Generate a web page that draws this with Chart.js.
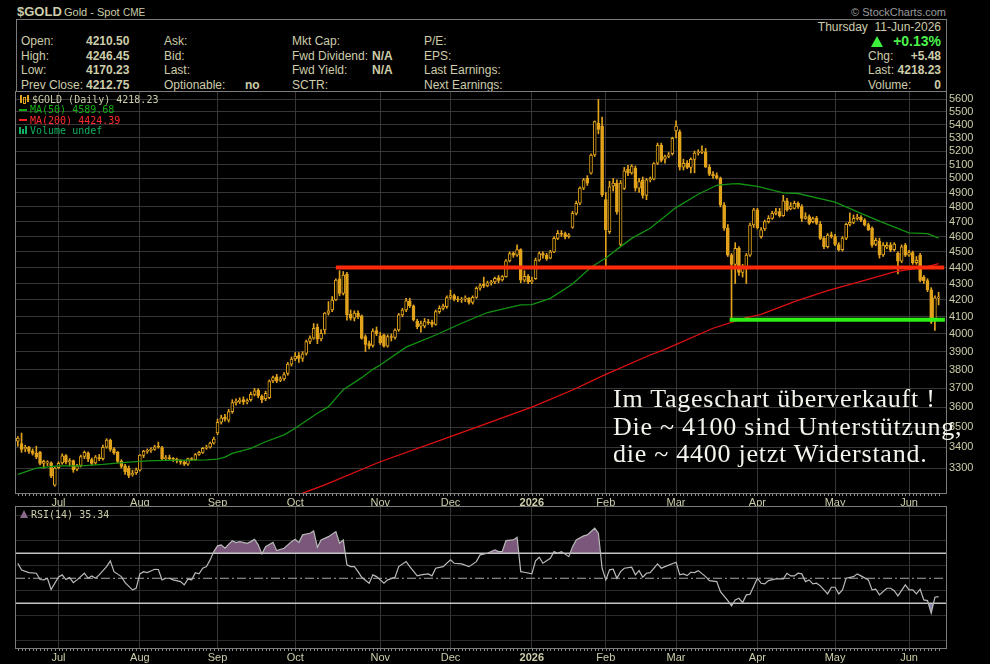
<!DOCTYPE html>
<html>
<head>
<meta charset="utf-8">
<title>$GOLD Daily</title>
<script src="https://cdn.jsdelivr.net/npm/chart.js@4.4.1/dist/chart.umd.min.js"></script>
<style>
  body { margin: 0; background: #000; width: 990px; height: 664px; overflow: hidden; position: relative;
         font-family: "Liberation Sans", Arial, sans-serif; color: #cdcdaa; }
  .t { position: absolute; font-size: 12px; line-height: 14px; white-space: nowrap; }
  .b { font-weight: bold; }
  .r { right: 49px; text-align: right; }
  .lg { position: absolute; font-family: "DejaVu Sans Mono", monospace; font-size: 10px; line-height: 11px; white-space: nowrap; }
  #hdr { position: absolute; left: 16px; top: 19px; width: 929px; height: 71px; border: 1px solid #7a7a7a; }
  #pricebox { position: absolute; left: 0; top: 88px; }
  #rsibox { position: absolute; left: 0; top: 505px; }
  #note { position: absolute; left: 613px; top: 385px; font-family: "Liberation Serif", "Times New Roman", serif;
          font-size: 26px; letter-spacing: 0.75px; line-height: 27.5px; color: #f4f4ec; white-space: nowrap; }
</style>
</head>
<body>

<div class="t b" style="left:17px;top:5px;font-size:13px;">$GOLD</div>
<div class="t" style="left:64px;top:5px;font-size:11px;">Gold - Spot</div>
<div class="t" style="left:123px;top:6px;font-size:10px;">CME</div>
<div class="t" style="right:44px;top:5px;font-size:11px;color:#9a9a9a;">&copy; StockCharts.com</div>

<div id="hdr"></div>
<div class="t r" style="top:20px;">Thursday&nbsp; 11-Jun-2026</div>
<div style="position:absolute;left:871px;top:36px;width:0;height:0;border-left:6px solid transparent;border-right:6px solid transparent;border-bottom:11px solid #3cf03c;"></div>
<div class="t r b" style="top:33px;font-size:14px;line-height:16px;color:#4cf24c;">+0.13%</div>

<div class="t" style="left:21px;top:34px;">Open:</div>
<div class="t b" style="left:86px;top:34px;">4210.50</div>
<div class="t" style="left:164px;top:34px;">Ask:</div>
<div class="t" style="left:292px;top:34px;">Mkt Cap:</div>
<div class="t" style="left:424px;top:34px;">P/E:</div>

<div class="t" style="left:21px;top:48.5px;">High:</div>
<div class="t b" style="left:86px;top:48.5px;">4246.45</div>
<div class="t" style="left:164px;top:48.5px;">Bid:</div>
<div class="t" style="left:292px;top:48.5px;">Fwd Dividend:</div>
<div class="t b" style="left:372px;top:48.5px;">N/A</div>
<div class="t" style="left:424px;top:48.5px;">EPS:</div>
<div class="t" style="left:868px;top:48.5px;">Chg:</div>
<div class="t r b" style="top:48.5px;">+5.48</div>

<div class="t" style="left:21px;top:63px;">Low:</div>
<div class="t b" style="left:86px;top:63px;">4170.23</div>
<div class="t" style="left:164px;top:63px;">Last:</div>
<div class="t" style="left:292px;top:63px;">Fwd Yield:</div>
<div class="t b" style="left:372px;top:63px;">N/A</div>
<div class="t" style="left:424px;top:63px;">Last Earnings:</div>
<div class="t" style="left:868px;top:63px;">Last:</div>
<div class="t r b" style="top:63px;">4218.23</div>

<div class="t" style="left:21px;top:77.5px;">Prev Close:</div>
<div class="t b" style="left:86px;top:77.5px;">4212.75</div>
<div class="t" style="left:164px;top:77.5px;">Optionable:</div>
<div class="t b" style="left:245px;top:77.5px;">no</div>
<div class="t" style="left:292px;top:77.5px;">SCTR:</div>
<div class="t" style="left:424px;top:77.5px;">Next Earnings:</div>
<div class="t" style="left:868px;top:77.5px;">Volume:</div>
<div class="t r b" style="top:77.5px;">0</div>

<div id="pricebox"><canvas id="price" width="990" height="419" style="width:990px;height:419px;"></canvas></div>
<div id="rsibox"><canvas id="rsi" width="990" height="159" style="width:990px;height:159px;"></canvas></div>

<!-- legends -->
<div style="position:absolute;left:20px;top:95px;width:2px;height:8px;background:#e2a31c;"></div>
<div style="position:absolute;left:23px;top:97px;width:1px;height:5px;border:1px solid #e2a31c;"></div>
<div style="position:absolute;left:27px;top:95px;width:2px;height:7px;background:#e2a31c;"></div>
<div class="lg" style="left:32px;top:93.5px;color:#cdcdaa;">$GOLD (Daily) 4218.23</div>
<div style="position:absolute;left:19px;top:108.5px;width:8px;height:2px;background:#14a814;"></div>
<div class="lg" style="left:30px;top:104px;color:#14b014;">MA(50) 4589.68</div>
<div style="position:absolute;left:19px;top:119px;width:8px;height:2px;background:#ff2020;"></div>
<div class="lg" style="left:30px;top:114.5px;color:#ff2a2a;">MA(200) 4424.39</div>
<div style="position:absolute;left:19px;top:127px;width:2px;height:7px;background:#10b060;"></div>
<div style="position:absolute;left:22px;top:129px;width:2px;height:5px;background:#10b060;"></div>
<div style="position:absolute;left:25px;top:126px;width:2px;height:8px;background:#10b060;"></div>
<div class="lg" style="left:30px;top:125px;color:#10b060;">Volume undef</div>

<div style="position:absolute;left:20px;top:510px;width:0;height:0;border-left:4px solid transparent;border-right:4px solid transparent;border-bottom:8px solid #8a6a8a;"></div>
<div class="lg" style="left:31px;top:509px;color:#cdcdaa;">RSI(14) 35.34</div>

<div id="note">Im Tageschart überverkauft !<br>Die ~ 4100 sind Unterstützung,<br>die ~ 4400 jetzt Widerstand.</div>

<script>
// daily bars, Jun 2025 - 11 Jun 2026 (one row per month)
var opens = [
  3430,3418,3392,3400,3382,3372,3375,3322,3325,3325,3220,
  3302,3325,3360,3330,3335,3295,3312,3355,3372,3340,3325,3350,3345,3400,3435,3392,3375,3332,3310,3300,3268,3278,
  3290,3360,3380,3385,3390,3402,3398,3345,3350,3345,3342,3335,3328,3318,3342,3340,3365,3375,3395,3400,3420,
  3470,3524,3550,3535,3578,3625,3630,3640,3628,3640,3668,3690,3658,3645,3650,3740,3762,3742,3750,3780,3831,
  3860,3878,3862,3890,3958,3976,4040,3972,4024,4121,4140,4200,4330,4240,4358,4115,4091,4121,4105,3985,3945,3935,4020,
  3989,3995,3930,3985,3980,4023,4111,4140,4195,4165,4075,4045,4045,4070,4068,4055,4130,4150,4160,
  4215,4226,4205,4200,4205,4210,4185,4216,4271,4295,4285,4305,4310,4335,4322,4343,4442,4490,4478,4514,4321,4345,
  4311,4330,4447,4489,4478,4460,4500,4588,4622,4620,4600,4660,4756,4825,4931,5002,5038,5171,5412,5390,
  4850,4633,4945,4966,4548,4928,5067,5040,5075,4930,4990,4880,4990,4995,5110,5244,5140,5160,5180,
  5352,5346,5081,5110,5080,5139,5186,5190,5195,5081,5030,5020,5003,4813,4655,4480,4419,4523,4370,4400,4479,4677,
  4780,4599,4650,4699,4722,4756,4767,4740,4842,4786,4790,4825,4802,4722,4733,4700,4722,4681,4588,4533,4612,
  4600,4548,4515,4590,4681,4695,4722,4730,4710,4680,4655,4548,4570,4480,4530,4544,4515,4490,4440,4544,
  4479,4495,4430,4479,4340,4318,4262,4080,4210.5
];
var highs = [
  3452,3470,3410,3405,3392,3405,3380,3338,3335,3330,3305,
  3330,3368,3365,3345,3338,3318,3362,3382,3378,3348,3360,3365,3410,3442,3440,3398,3380,3340,3318,3310,3290,3300,
  3365,3385,3392,3398,3410,3425,3405,3360,3362,3350,3348,3340,3335,3348,3350,3370,3380,3400,3410,3425,3450,
  3540,3560,3565,3590,3640,3645,3650,3655,3645,3680,3700,3698,3665,3685,3745,3765,3775,3762,3785,3840,3870,
  3895,3895,3900,3965,3990,4060,4058,4025,4125,4190,4220,4330,4380,4375,4370,4140,4135,4135,4110,3995,3960,4030,4040,
  4010,4000,3995,4000,4030,4120,4150,4210,4210,4170,4085,4075,4090,4085,4080,4140,4165,4175,4225,
  4260,4235,4220,4215,4225,4215,4225,4280,4300,4340,4315,4320,4340,4350,4350,4450,4500,4500,4545,4520,4380,4355,
  4340,4460,4500,4500,4490,4510,4600,4640,4640,4630,4620,4770,4840,4940,5000,5020,5180,5430,5600,5460,
  4900,4980,5000,4990,4985,5080,5095,5100,5090,5000,5010,5000,5010,5115,5260,5260,5170,5190,5305,
  5430,5360,5140,5130,5150,5200,5210,5240,5220,5100,5050,5040,5010,4830,4680,4490,4560,4535,4420,4490,4690,4790,
  4790,4660,4710,4740,4770,4790,4790,4880,4860,4830,4840,4835,4815,4760,4745,4730,4735,4700,4600,4620,4630,
  4615,4560,4600,4690,4760,4745,4750,4740,4720,4690,4665,4590,4590,4560,4560,4560,4560,4500,4545,4555,
  4510,4505,4470,4490,4350,4330,4275,4225,4246.45
];
var lows = [
  3405,3375,3378,3370,3362,3345,3315,3300,3312,3255,3215,
  3298,3318,3320,3310,3280,3288,3305,3345,3330,3315,3318,3335,3338,3395,3380,3365,3325,3300,3270,3255,3262,3270,
  3285,3350,3370,3375,3385,3395,3340,3335,3340,3332,3325,3318,3312,3312,3335,3338,3360,3370,3390,3395,3415,
  3462,3515,3530,3525,3570,3612,3620,3615,3618,3632,3660,3650,3625,3635,3645,3730,3730,3735,3742,3770,3820,
  3850,3840,3845,3880,3945,3970,3945,3960,4000,4110,4130,4195,4225,4230,4080,4080,4075,4090,3970,3900,3915,3925,3990,
  3940,3925,3925,3960,3970,4015,4100,4130,4155,4075,4030,4010,4035,4055,4040,4050,4120,4140,4150,
  4205,4195,4190,4185,4190,4175,4175,4210,4260,4275,4280,4290,4300,4305,4315,4340,4435,4465,4470,4305,4310,4300,
  4300,4325,4440,4460,4445,4455,4495,4580,4600,4585,4590,4655,4745,4815,4920,4950,5030,5160,5330,4870,
  4402,4620,4910,4750,4540,4920,5020,5030,4910,4900,4860,4850,4975,4990,5100,5120,5110,5150,5170,
  5300,5060,5060,5070,5040,5040,5170,5180,5080,5020,5000,4995,4800,4640,4470,4081,4300,4350,4340,4300,4470,4660,
  4650,4590,4640,4690,4715,4745,4730,4735,4770,4780,4785,4790,4700,4715,4680,4690,4680,4580,4520,4525,4590,
  4540,4505,4505,4580,4670,4685,4710,4700,4670,4640,4530,4540,4460,4470,4520,4500,4505,4360,4430,4470,
  4470,4420,4420,4310,4300,4250,4060,4020,4170.23
];
var closes = [
  3445,3390,3400,3380,3370,3352,3322,3332,3328,3262,3300,
  3322,3358,3328,3335,3292,3310,3355,3375,3342,3322,3352,3345,3400,3435,3390,3372,3332,3308,3282,3265,3275,3292,
  3362,3380,3385,3390,3402,3400,3345,3350,3345,3342,3335,3328,3318,3345,3340,3365,3375,3395,3400,3420,3440,
  3524,3547,3540,3578,3625,3632,3638,3628,3635,3668,3686,3660,3640,3673,3739,3758,3740,3750,3774,3831,3859,
  3875,3862,3888,3956,3976,4033,3970,4004,4121,4135,4200,4321,4240,4352,4111,4091,4121,4100,3975,3940,3930,4017,4000,
  3950,3930,3985,3980,4023,4111,4140,4195,4165,4081,4042,4060,4071,4065,4055,4130,4150,4164,4215,
  4226,4205,4200,4205,4210,4185,4216,4271,4287,4285,4305,4310,4332,4320,4343,4442,4489,4478,4514,4321,4345,4311,
  4320,4447,4489,4478,4457,4500,4588,4622,4615,4599,4610,4756,4825,4931,4990,4966,5171,5424,5365,4885,
  4645,4940,4966,4767,4966,5054,5038,5090,4930,4978,4880,4990,4995,5107,5244,5130,5160,5173,5296,
  5389,5081,5110,5080,5139,5186,5190,5200,5081,5030,5020,5003,4813,4655,4479,4419,4523,4370,4400,4479,4677,4779,
  4659,4644,4699,4722,4756,4767,4740,4842,4779,4805,4825,4800,4722,4733,4688,4720,4688,4588,4533,4610,4600,
  4548,4515,4590,4681,4695,4722,4730,4710,4677,4644,4544,4575,4480,4544,4542,4511,4550,4440,4533,4479,
  4495,4430,4445,4320,4318,4262,4070,4212.75,4218.23
];

// moving averages (bar index -> value)
var ma50Bars   = [0, 5, 11, 17, 23, 30, 35, 40, 47, 51, 54, 56, 58, 63, 67, 72, 75, 81, 84, 88, 93, 96, 98, 105, 113,
                  120, 127, 136, 139, 144, 150, 155, 159, 163, 166, 171, 178, 184, 189, 193, 195, 200, 207, 211, 221, 228, 233, 241, 246, 249];
var ma50Values = [3270, 3300, 3310, 3310, 3317, 3328, 3334, 3337, 3338, 3339, 3343, 3352, 3370, 3395, 3427, 3461, 3494, 3570, 3604, 3693, 3757, 3802, 3826, 3925, 3994,
                  4062, 4125, 4171, 4172, 4210, 4297, 4402, 4460, 4534, 4588, 4655, 4795, 4888, 4951, 4961, 4962, 4944, 4897, 4893, 4833, 4755, 4703, 4624, 4619, 4590];
var ma200Bars   = [77, 83, 98, 117, 139, 150, 159, 171, 175, 188, 197, 201, 210, 219, 228, 237, 246, 249];
var ma200Values = [3183, 3221, 3330, 3452, 3601, 3691, 3775, 3881, 3913, 4033, 4095, 4114, 4190, 4256, 4313, 4372, 4406, 4424];

// RSI(14)
var rsiBars = [
  0,1,3,5,6,7,8,9,11,12,  13,14,15,16,18,19,20,21,22,24,  25,26,28,29,31,32,33,34,35,37,  38,39,40,41,42,44,45,46,47,48,
  49,50,51,52,53,54,55,56,58,59,  60,62,63,64,65,66,67,69,70,72,  74,75,76,77,79,80,81,82,84,86,  87,88,89,90,91,92,93,95,96,97,
  99,100,102,103,105,106,108,109,111,112,  113,115,117,118,120,122,124,125,127,129,  130,131,132,134,135,136,137,139,140,141,
  142,144,145,146,147,149,150,151,153,154,  156,157,158,159,160,161,162,163,164,166,  167,168,169,170,171,173,174,175,178,179,
  180,181,182,183,184,186,187,189,190,192,  193,194,195,196,197,198,200,201,202,203,  205,207,208,209,210,211,212,213,214,215,
  216,217,218,219,220,221,222,223,224,226,  227,228,230,231,232,233,235,236,237,238,  240,241,242,243,244,245,246,247,248,249
];
var rsiValues = [
  62,56.5,54.5,54,49,48.7,50,41,51,52.7,  49,50.5,46.5,48.7,54,50,51.9,50,52.7,59.3,  63.9,55.3,51.3,46.5,40.7,42,53.5,55.3,54.5,57.2,  57,48.7,50,50,48.7,47.3,44.7,49.2,48.7,54.5,
  53.5,58,59.3,64.7,71.3,75.9,76.7,74,80.1,78.5,  79.3,78,79.3,81.2,76.7,69.5,75.3,78.8,72.1,74,  79.3,81.2,78.5,84.7,86,87.9,74.8,80.7,83.3,87.3,  78,80.7,60.7,59.3,59.3,55.3,50.8,46,52.7,51.3,
  46,48.7,50.8,59.3,63.3,59.3,51.9,52.7,53.5,51.9,  58,59.3,64.7,62,61.5,59.3,63.3,68.7,70,72.7,  71.3,71.5,80.1,80.7,82.8,55.3,54.8,53.5,63.9,66.8,
  62,66,71.3,70,71.3,67.3,75.3,80.7,83.9,84.7,  90,86,58,48.7,56.7,57.2,50,55.3,58,58.8,  52.7,56.1,50.8,54,54.5,61.5,58,59.3,62.8,52.7,
  53.5,52.1,54.8,54.5,56.1,51.3,48.1,47.3,39.3,32.1,  27.9,32.7,34,30.5,36.7,37.2,50,46,45.5,48.1,  49.5,49.5,54,51.9,51.9,54,53.5,47.3,48.7,45.5,
  46,43.9,40.7,37.5,42.8,42.8,37.5,40.7,50,51.3,  53.5,51.9,48.7,40.7,41.2,36.7,42,42,40.1,35.9,  44.7,40.7,40.7,37.5,41.2,32.7,32.1,22,34.8,35.3
];

// drawn support / resistance levels
var resistanceLevel = 4400, resistanceFrom = 86, resistanceTo = 250.5;
var supportLevel = 4083, supportFrom = 192.5, supportTo = 250.7;

// axes
var monthTicks  = [11, 33, 54, 75, 98, 117, 139, 159, 178, 200, 221, 241];
var monthLabels = ['Jul', 'Aug', 'Sep', 'Oct', 'Nov', 'Dec', '2026', 'Feb', 'Mar', 'Apr', 'May', 'Jun'];
var priceTicks  = [3300, 3400, 3500, 3600, 3700, 3800, 3900, 4000, 4100, 4200, 4300, 4400,
                   4500, 4600, 4700, 4800, 4900, 5000, 5100, 5200, 5300, 5400, 5500, 5600];
var rsiGrid   = [0, 10, 20, 30, 40, 50, 60, 70, 80, 90, 100];
var rsiLabels = [10, 30, 50, 70, 90];
var rsiLevels = [70, 50, 30];

var sans = '"Liberation Sans", Arial, sans-serif';
var txt = '#cdcdaa';
var gridColor = '#363636';
var gold = '#e2a31c';

// border round the plot area
var frame = {
    id: 'frame',
    afterDraw: function(chart) {
        var a = chart.chartArea, c = chart.ctx;
        c.save();
        c.strokeStyle = '#7c7c7c';
        c.lineWidth = 1;
        c.strokeRect(Math.round(a.left) - 0.5, Math.round(a.top) - 0.5,
                     Math.round(a.right - a.left) + 1, Math.round(a.bottom - a.top) + 1);
        c.restore();
    }
};

// small day marks under the bottom border
var dayTicks = {
    id: 'dayTicks',
    afterDraw: function(chart) {
        var x = chart.scales.x, a = chart.chartArea, c = chart.ctx;
        c.save();
        c.fillStyle = '#8c8c8c';
        closes.forEach(function(v, i) {
            c.fillRect(Math.round(x.getPixelForValue(i)), Math.round(a.bottom) + 1, 1, 2);
        });
        c.restore();
    }
};

// keep label overhang from shrinking the plot area
function noPad(s) {
    s.paddingTop = 0;
    s.paddingBottom = 0;
    s.paddingLeft = 0;
    s.paddingRight = 0;
}

function monthAxis(h) {
    return {
        type: 'linear',
        min: -0.5,
        max: 251,
        offset: false,
        afterBuildTicks: function(s) { s.ticks = monthTicks.map(function(v) { return { value: v }; }); },
        afterFit: function(s) { s.height = h; noPad(s); },
        grid: { color: gridColor, drawTicks: false, offset: false },
        border: { display: false },
        ticks: {
            color: txt,
            padding: 3,
            autoSkip: false,
            maxRotation: 0,
            font: function(c) {
                return { family: sans, size: 11, weight: (c.tick && c.tick.value === 139) ? 'bold' : 'normal' };
            },
            callback: function(v) { return monthLabels[monthTicks.indexOf(v)]; }
        }
    };
}

function pts(xs, ys) {
    return xs.map(function(x, i) { return { x: x, y: ys[i] }; });
}

// Price panel
new Chart(document.getElementById('price'), {
    type: 'bar',
    data: {
        datasets: [{
            type: 'line',
            label: 'Support',
            data: pts([supportFrom, supportTo], [supportLevel, supportLevel]),
            borderColor: '#2cf014',
            borderWidth: 4,
            pointRadius: 0,
            order: 0
        }, {
            type: 'line',
            label: 'Resistance',
            data: pts([resistanceFrom, resistanceTo], [resistanceLevel, resistanceLevel]),
            borderColor: '#ff2a0a',
            borderWidth: 4,
            pointRadius: 0,
            order: 0
        }, {
            type: 'line',
            label: 'MA(50)',
            data: pts(ma50Bars, ma50Values),
            borderColor: '#129312',
            borderWidth: 1.3,
            pointRadius: 0,
            order: 1
        }, {
            type: 'line',
            label: 'MA(200)',
            data: pts(ma200Bars, ma200Values),
            borderColor: '#e01010',
            borderWidth: 1.3,
            pointRadius: 0,
            order: 1
        }, {
            label: 'Bodies',
            data: closes.map(function(c, i) { return { x: i, y: [opens[i], c] }; }),
            backgroundColor: closes.map(function(c, i) { return c >= opens[i] ? '#000000' : gold; }),
            borderColor: gold,
            borderWidth: 1,
            borderSkipped: false,
            barThickness: 3,
            minBarLength: 1,
            grouped: false,
            order: 2
        }, {
            label: 'Wicks',
            data: closes.map(function(c, i) { return { x: i, y: [lows[i], highs[i]] }; }),
            backgroundColor: gold,
            borderWidth: 0,
            barThickness: 1,
            grouped: false,
            order: 3
        }]
    },
    options: {
        responsive: false,
        animation: false,
        layout: { padding: { left: 16, top: 4, right: 0, bottom: 0 } },
        plugins: { legend: { display: false }, tooltip: { enabled: false } },
        scales: {
            x: monthAxis(14),
            y: {
                type: 'logarithmic',
                position: 'right',
                min: 3184,
                max: 5660,
                afterBuildTicks: function(s) { s.ticks = priceTicks.map(function(v) { return { value: v }; }); },
                afterFit: function(s) { s.width = 44; noPad(s); },
                grid: { color: gridColor, drawTicks: false },
                border: { display: false },
                ticks: { color: txt, padding: 3, font: { family: sans, size: 11 }, callback: function(v) { return String(v); } }
            }
        }
    },
    plugins: [frame, dayTicks]
});

// RSI panel
var rsiPts = pts(rsiBars, rsiValues);
var levelSets = rsiLevels.map(function(l) {
    return {
        label: 'level ' + l,
        data: pts([-0.5, 251], [l, l]),
        borderColor: l === 50 ? '#a8a8a8' : '#c4c4c4',
        borderWidth: l === 50 ? 1.2 : 1.5,
        borderDash: l === 50 ? [9, 3, 2, 3] : [],
        pointRadius: 0,
        order: 1
    };
});

new Chart(document.getElementById('rsi'), {
    type: 'line',
    data: {
        datasets: [{
            label: 'RSI(14)',
            data: rsiPts,
            borderColor: '#bababa',
            borderWidth: 1.2,
            pointRadius: 0,
            fill: { target: { value: 70 }, above: '#7b587b', below: 'rgba(0,0,0,0)' },
            order: 0
        }, {
            label: 'RSI oversold',
            data: rsiPts,
            borderColor: 'rgba(0,0,0,0)',
            borderWidth: 0,
            pointRadius: 0,
            fill: { target: { value: 30 }, above: 'rgba(0,0,0,0)', below: '#8485aa' },
            order: 3
        }].concat(levelSets)
    },
    options: {
        responsive: false,
        animation: false,
        layout: { padding: { left: 16, top: 2, right: 0, bottom: 0 } },
        plugins: { legend: { display: false }, tooltip: { enabled: false }, filler: { drawTime: 'beforeDatasetsDraw' } },
        scales: {
            x: monthAxis(16),
            y: {
                type: 'linear',
                position: 'right',
                min: -5.8,
                max: 107,
                afterBuildTicks: function(s) { s.ticks = rsiGrid.map(function(v) { return { value: v }; }); },
                afterFit: function(s) { s.width = 44; noPad(s); },
                grid: { color: '#2c2c2c', drawTicks: false },
                border: { display: false },
                ticks: {
                    color: txt, padding: 3, font: { family: sans, size: 11 },
                    callback: function(v) { return rsiLabels.indexOf(v) >= 0 ? String(v) : ''; }
                }
            }
        }
    },
    plugins: [frame, dayTicks]
});
</script>
</body>
</html>
